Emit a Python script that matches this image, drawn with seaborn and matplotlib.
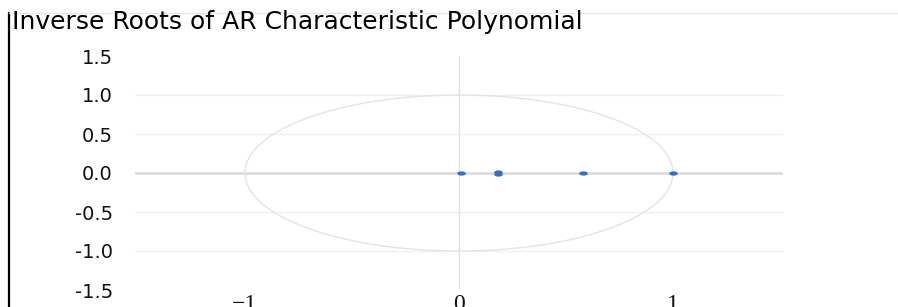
import numpy as np
import pandas as pd
import matplotlib
matplotlib.use("Agg")
import matplotlib.pyplot as plt
from matplotlib.lines import Line2D
import seaborn as sns

# inverse roots (real, imaginary)
root_real = [0.008, 0.184, 0.184, 0.581, 0.999]
root_imag = [0.0, 0.012, -0.012, 0.0, 0.0]
y_ticks = [-1.5, -1.0, -0.5, 0.0, 0.5, 1.0, 1.5]
x_ticks = [-1, 0, 1]
title = "Inverse Roots of AR Characteristic Polynomial"

df = pd.DataFrame({"real": root_real, "imag": root_imag})

sns.set_style("white")
plt.rcParams["font.family"] = ["DejaVu Sans"]

fig = plt.figure(figsize=(8.98, 3.07), dpi=100)
ax = fig.add_axes([135 / 898, 17 / 307, 648 / 898, 234 / 307])

# unit circle
theta = np.linspace(0, 2 * np.pi, 400)
ax.plot(np.cos(theta), np.sin(theta), color="#e4e4e4", lw=1.0, zorder=1)

# grid lines
for yv in [-1.0, -0.5, 0.5, 1.0]:
    ax.axhline(yv, color="#f0f0f0", lw=1.0, zorder=0)
ax.axhline(0, color="#d9d9d9", lw=1.8, zorder=0)
ax.axvline(0, color="#e2e2e2", lw=1.0, zorder=0)

# wide elliptical marker
t = np.linspace(0, 2 * np.pi, 40)
ell = np.column_stack([2 * np.cos(t), np.sin(t)])
sns.scatterplot(data=df, x="real", y="imag", ax=ax, marker=ell, s=38,
                color="#3b6dbb", linewidth=0, zorder=3, legend=False)

ax.set_xlim(-1.514, 1.514)
ax.set_ylim(-1.5, 1.5)
ax.set_yticks(y_ticks)
ax.set_yticklabels([f"{v:.1f}" for v in y_ticks])
ax.set_xticks(x_ticks)
ax.set_xticklabels([str(v).replace("-", "\u2212") for v in x_ticks],
                   family="Liberation Serif", fontsize=17)
ax.tick_params(axis="y", length=0, pad=16, labelsize=14, labelcolor="#111111")
ax.tick_params(axis="x", length=0, pad=3, labelcolor="#111111")
ax.set_xlabel("")
ax.set_ylabel("")
for s in ax.spines.values():
    s.set_visible(False)

fig.text(12 / 898, 1 - 29 / 307, title, fontsize=18, color="#000000",
         ha="left", va="baseline")

# frame lines
fig.add_artist(Line2D([9 / 898, 9 / 898], [0, 1 - 13 / 307],
                      transform=fig.transFigure, color="black", lw=1.6))
fig.add_artist(Line2D([9 / 898, 1], [1 - 13 / 307, 1 - 13 / 307],
                      transform=fig.transFigure, color="#e8e8e8", lw=1.0))

fig.savefig("out.png", dpi=100)
